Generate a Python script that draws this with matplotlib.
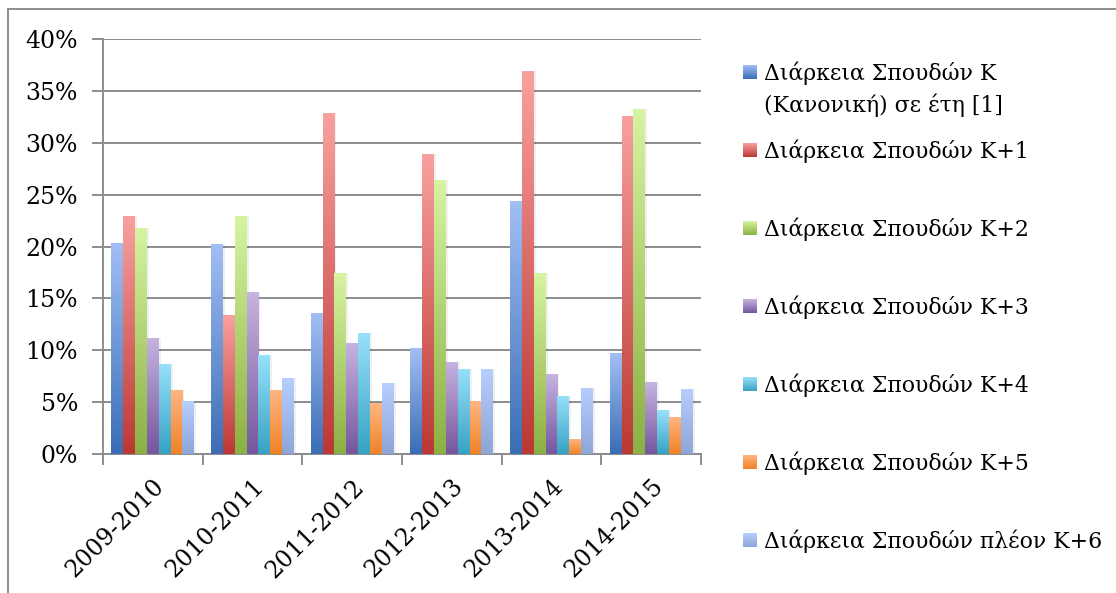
import matplotlib
matplotlib.use("Agg")
import matplotlib.pyplot as plt
import numpy as np
from matplotlib.colors import LinearSegmentedColormap
from matplotlib.lines import Line2D

# data (percent)
years = ["2009-2010", "2010-2011", "2011-2012", "2012-2013", "2013-2014", "2014-2015"]
series_names = [
    "Διάρκεια Σπουδών Κ\n(Κανονική) σε έτη [1]",
    "Διάρκεια Σπουδών Κ+1",
    "Διάρκεια Σπουδών Κ+2",
    "Διάρκεια Σπουδών Κ+3",
    "Διάρκεια Σπουδών Κ+4",
    "Διάρκεια Σπουδών Κ+5",
    "Διάρκεια Σπουδών πλέον Κ+6",
]
k0 = [20.3, 20.2, 13.6, 10.2, 24.4, 9.7]
k1 = [22.9, 13.4, 32.9, 28.9, 36.9, 32.6]
k2 = [21.8, 22.9, 17.4, 26.4, 17.4, 33.3]
k3 = [11.2, 15.6, 10.7, 8.9, 7.7, 6.9]
k4 = [8.7, 9.5, 11.7, 8.2, 5.6, 4.2]
k5 = [6.2, 6.2, 4.9, 5.1, 1.4, 3.6]
k6 = [5.1, 7.3, 6.8, 8.2, 6.4, 6.3]
all_series = [k0, k1, k2, k3, k4, k5, k6]

# (top colour, bottom colour) for each series
grads = [
    ("#a3bff4", "#3a6db5"),
    ("#f9a19f", "#bb3834"),
    ("#d6f4a2", "#8bb043"),
    ("#c6b4e1", "#75569d"),
    ("#98e1fb", "#36a2c3"),
    ("#ffb684", "#f08226"),
    ("#b7cfff", "#8da5d7"),
]

W, H = 1116, 593
fig = plt.figure(figsize=(W / 100, H / 100), dpi=100)
plt.rcParams['font.family'] = ['DejaVu Serif']

ax = fig.add_axes([103 / W, 1 - 454 / H, 598 / W, 415 / H])

x = np.arange(len(years))
bw = 0.119
grad = np.linspace(0, 1, 256).reshape(-1, 1)

for i, vals in enumerate(all_series):
    pos = x + (i - 3) * bw
    # soft shadow
    ax.bar(pos + 0.02, vals, bw, color="#000000", alpha=0.06, zorder=2, linewidth=0)
    bars = ax.bar(pos, vals, bw, color=grads[i][1], zorder=3, linewidth=0)
    cmap = LinearSegmentedColormap.from_list("g%d" % i, [grads[i][1], grads[i][0]])
    for rect in bars:
        x0 = rect.get_x()
        im = ax.imshow(grad, extent=[x0, x0 + rect.get_width(), 0, rect.get_height()],
                       origin="lower", aspect="auto", cmap=cmap, zorder=4)
        im.set_clip_path(rect)

ax.set_xlim(-0.5, 5.5)
ax.set_ylim(0, 40)
ax.set_yticks(np.arange(0, 41, 5))
ax.set_yticklabels(["%d%%" % v for v in range(0, 41, 5)], fontsize=17)
ax.yaxis.grid(True, color="#8c8c8c", linewidth=1.4, zorder=0)
ax.set_axisbelow(True)

ax.set_xticks(x)
ax.set_xticklabels(years, rotation=45, ha="right", rotation_mode="anchor", fontsize=17)
ax.set_xticks(np.arange(-0.5, 6, 1), minor=True)
ax.tick_params(axis="x", which="major", length=0, pad=15)
ax.tick_params(axis="x", which="minor", length=8, width=1.4, color="#8c8c8c")
ax.tick_params(axis="y", length=8, width=1.4, color="#8c8c8c", pad=10)

for s in ["top", "right"]:
    ax.spines[s].set_visible(False)
for s in ["left", "bottom"]:
    ax.spines[s].set_color("#8c8c8c")
    ax.spines[s].set_linewidth(1.4)

# outer chart frame
fig.add_artist(Line2D([8 / W, 1.0], [1 - 9 / H, 1 - 9 / H], color="#8c8c8c", linewidth=1.4))
fig.add_artist(Line2D([8 / W, 8 / W], [0.0, 1 - 9 / H], color="#8c8c8c", linewidth=1.4))

# legend drawn by hand
centers = [72, 150, 228, 306, 384, 462, 540]
for i, name in enumerate(series_names):
    cy = centers[i]
    hax = fig.add_axes([743 / W, 1 - (cy + 7) / H, 14 / W, 14 / H])
    hcmap = LinearSegmentedColormap.from_list("h%d" % i, [grads[i][1], grads[i][0]])
    hax.imshow(grad, origin="lower", aspect="auto", cmap=hcmap)
    hax.axis("off")
    lines = name.split("\n")
    for j, line in enumerate(lines):
        fig.text(764 / W, 1 - (cy + 8 + j * 32) / H, line, fontsize=15.8, va="baseline", ha="left")

fig.savefig("out.png", dpi=100)
